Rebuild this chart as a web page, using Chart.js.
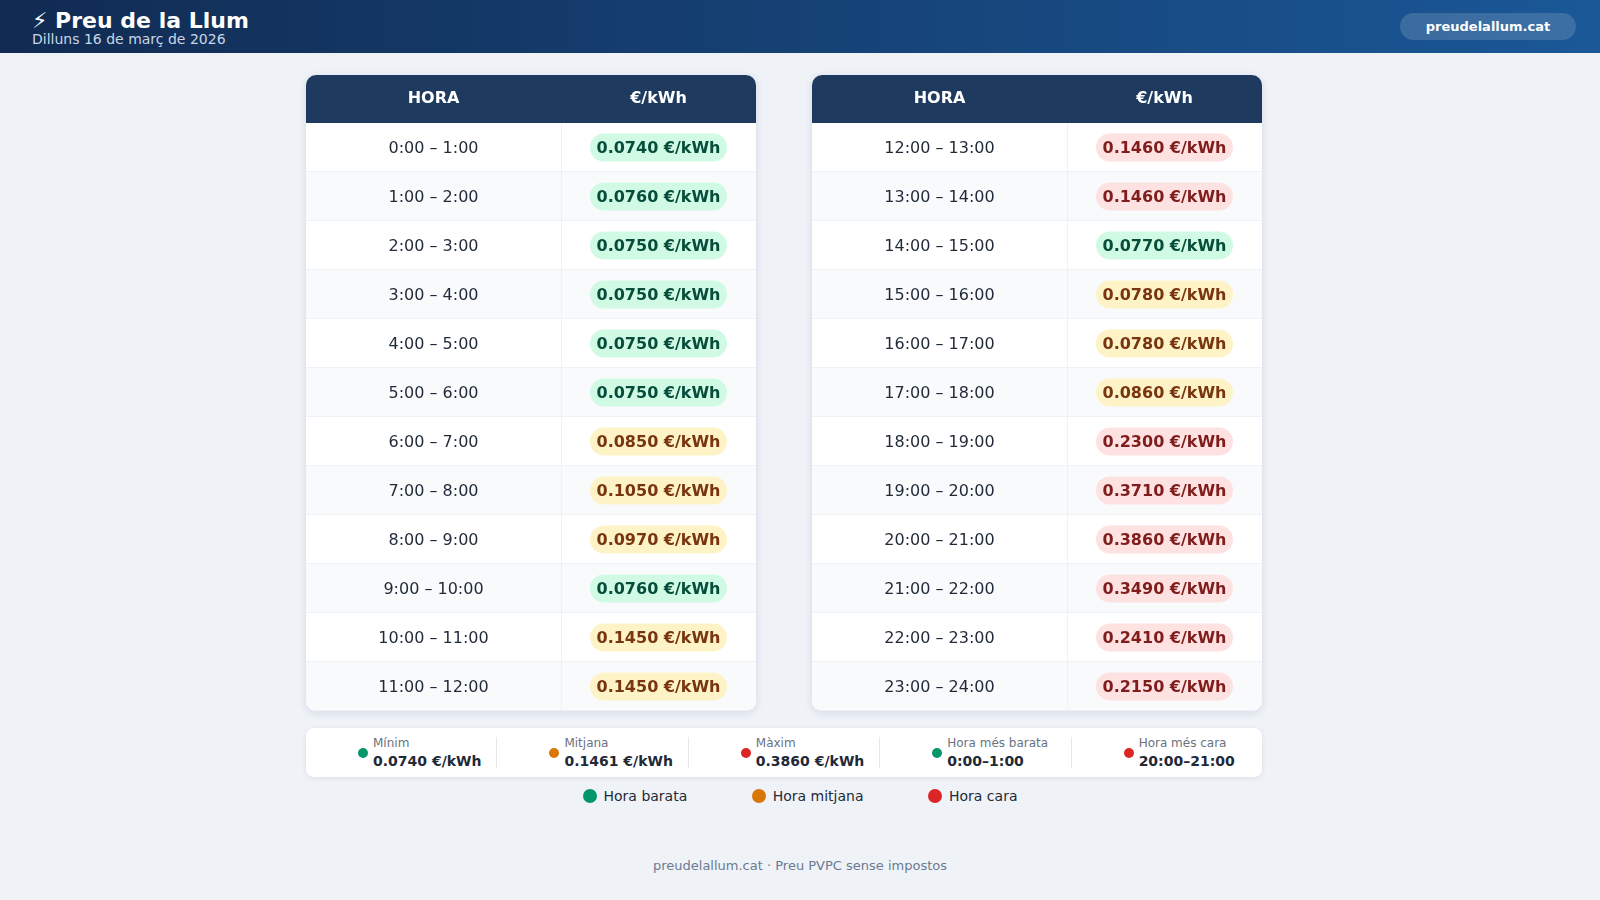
<!DOCTYPE html>
<html>
<head>
<meta charset="utf-8">
<script src="https://cdn.jsdelivr.net/npm/chart.js@4.4.1/dist/chart.umd.min.js"></script>
<style>
  body { margin: 0; width: 1600px; height: 900px; background: #eff3f8; font-family: "DejaVu Sans", sans-serif; position: relative; overflow: hidden; }
  .top { height: 53px; background: linear-gradient(90deg, #112b52 0%, #1a5897 100%); position: relative; }
  .top h1 { margin: 0; position: absolute; left: 32px; top: 8px; color: #fff; font-size: 22px; font-weight: bold; }
  .top .date { position: absolute; left: 32px; top: 31px; color: #c8d6e8; font-size: 14px; }
  .top .site { position: absolute; right: 24px; top: 13px; width: 176px; height: 27px; border-radius: 14px; background: rgba(255,255,255,0.15); color: #fff; font-size: 13px; font-weight: bold; text-align: center; line-height: 27px; }
  .tbl { position: absolute; top: 75px; width: 450px; height: 636px; background: #fff; border-radius: 10px; box-shadow: 0 2px 8px rgba(15,40,80,0.12); overflow: hidden; }
  .stats { position: absolute; left: 306px; top: 728px; width: 956px; height: 49px; background: #fff; border-radius: 8px; box-shadow: 0 1px 5px rgba(15,40,80,0.1); display: flex; }
  .stat { flex: 1; position: relative; border-left: 1px solid #e5e7eb; margin: 9px 0; }
  .stat:first-child { border-left: none; }
  .stat .dot { position: absolute; width: 10px; height: 10px; border-radius: 5px; top: 11px; }
  .stat .lab { position: absolute; top: -1px; font-size: 12px; color: #6b7280; }
  .stat .val { position: absolute; top: 16px; font-size: 14px; font-weight: bold; color: #1f2937; white-space: nowrap; }
  .legend { position: absolute; top: 788px; left: 0; width: 100%; text-align: center; font-size: 14px; color: #1f2937; }
  .legend span { display: inline-block; margin: 0 30px; }
  .legend i { display: inline-block; width: 14px; height: 14px; border-radius: 7px; vertical-align: -2px; margin-right: 7px; }
  .foot { position: absolute; top: 858px; width: 100%; text-align: center; font-size: 13px; color: #6b7a90; }
</style>
</head>
<body>
<div class="top">
  <h1>⚡ Preu de la Llum</h1>
  <div class="date">Dilluns 16 de març de 2026</div>
  <div class="site">preudelallum.cat</div>
</div>
<div class="tbl" style="left:306px"><canvas id="tableLeft" width="450" height="636"></canvas></div>
<div class="tbl" style="left:812px"><canvas id="tableRight" width="450" height="636"></canvas></div>
<div class="stats" id="stats"></div>
<div class="legend">
  <span><i style="background:#059669"></i>Hora barata</span>
  <span><i style="background:#d97706"></i>Hora mitjana</span>
  <span><i style="background:#dc2626"></i>Hora cara</span>
</div>
<div class="foot">preudelallum.cat · Preu PVPC sense impostos</div>
<script>
const hoursLeft = ["0:00 – 1:00", "1:00 – 2:00", "2:00 – 3:00", "3:00 – 4:00", "4:00 – 5:00", "5:00 – 6:00",
    "6:00 – 7:00", "7:00 – 8:00", "8:00 – 9:00", "9:00 – 10:00", "10:00 – 11:00", "11:00 – 12:00"];
const pricesLeft = [0.0740, 0.0760, 0.0750, 0.0750, 0.0750, 0.0750, 0.0850, 0.1050, 0.0970, 0.0760, 0.1450, 0.1450];
const levelsLeft = ["low", "low", "low", "low", "low", "low", "mid", "mid", "mid", "low", "mid", "mid"];

const hoursRight = ["12:00 – 13:00", "13:00 – 14:00", "14:00 – 15:00", "15:00 – 16:00", "16:00 – 17:00", "17:00 – 18:00",
    "18:00 – 19:00", "19:00 – 20:00", "20:00 – 21:00", "21:00 – 22:00", "22:00 – 23:00", "23:00 – 24:00"];
const pricesRight = [0.1460, 0.1460, 0.0770, 0.0780, 0.0780, 0.0860, 0.2300, 0.3710, 0.3860, 0.3490, 0.2410, 0.2150];
const levelsRight = ["high", "high", "low", "mid", "mid", "mid", "high", "high", "high", "high", "high", "high"];

const headers = ["HORA", "€/kWh"];
const statLabels = ["Mínim", "Mitjana", "Màxim", "Hora més barata", "Hora més cara"];
const statValues = ["0.0740 €/kWh", "0.1461 €/kWh", "0.3860 €/kWh", "0:00–1:00", "20:00–21:00"];
const statDots = ["#059669", "#d97706", "#dc2626", "#059669", "#dc2626"];

const pillStyles = {
    low: { bg: "#d1fae5", fg: "#064e3b" },
    mid: { bg: "#fef3c7", fg: "#78350f" },
    high: { bg: "#fee2e2", fg: "#7f1d1d" },
};

// Draws the table body using the category scale's row positions
const tablePlugin = {
    id: "tableCells",
    afterDatasetsDraw(chart) {
        const ctx = chart.ctx;
        const y = chart.scales.y;
        const w = chart.width;
        const splitX = 255;
        const rowH = y.getPixelForValue(1) - y.getPixelForValue(0);
        const levels = chart.options.plugins.tableCells.levels;
        const prices = chart.data.datasets[0].data;
        const labels = chart.data.labels;
        ctx.save();
        // header
        ctx.fillStyle = "#1e3a5f";
        ctx.fillRect(0, 0, w, y.top);
        ctx.fillStyle = "#fff";
        ctx.font = "bold 16px 'DejaVu Sans'";
        ctx.textAlign = "center";
        ctx.textBaseline = "middle";
        ctx.fillText(headers[0], splitX / 2, y.top / 2);
        ctx.fillText(headers[1], (splitX + w) / 2, y.top / 2);
        labels.forEach((label, i) => {
            const cy = y.getPixelForValue(i);
            const top = cy - rowH / 2;
            ctx.fillStyle = i % 2 ? "#f8fafc" : "#ffffff";
            ctx.fillRect(0, top, w, rowH);
            ctx.fillStyle = "#eef1f5";
            ctx.fillRect(0, top + rowH - 1, w, 1);
            ctx.fillRect(splitX, top, 1, rowH);
            ctx.fillStyle = "#1f2937";
            ctx.font = "16px 'DejaVu Sans'";
            ctx.fillText(label, splitX / 2, cy + 1);
            const st = pillStyles[levels[i]];
            const pw = 137, ph = 28, px = (splitX + w) / 2 - pw / 2;
            ctx.fillStyle = st.bg;
            ctx.beginPath();
            ctx.roundRect(px, cy - ph / 2, pw, ph, 14);
            ctx.fill();
            ctx.fillStyle = st.fg;
            ctx.font = "bold 16px 'DejaVu Sans'";
            ctx.fillText(prices[i].toFixed(4) + " €/kWh", (splitX + w) / 2, cy + 1);
        });
        ctx.restore();
    }
};

function makeTable(id, hours, prices, levels) {
    new Chart(document.getElementById(id), {
        type: "bar",
        data: {
            labels: hours,
            datasets: [{ data: prices, backgroundColor: "transparent" }],
        },
        options: {
            indexAxis: "y",
            responsive: false,
            animation: false,
            layout: { padding: { top: 48, left: 0, right: 0, bottom: 0 } },
            scales: {
                y: { display: false, offset: true },
                x: { display: false, min: 0, max: 0.4 },
            },
            plugins: {
                legend: { display: false },
                tooltip: { enabled: false },
                tableCells: { levels: levels },
            },
        },
        plugins: [tablePlugin],
    });
}

makeTable("tableLeft", hoursLeft, pricesLeft, levelsLeft);
makeTable("tableRight", hoursRight, pricesRight, levelsRight);

const stats = document.getElementById("stats");
statLabels.forEach((lab, i) => {
    const d = document.createElement("div");
    d.className = "stat";
    d.innerHTML = `<div class="dot" style="left:52px;background:${statDots[i]}"></div>
        <div class="lab" style="left:67px">${lab}</div>
        <div class="val" style="left:67px">${statValues[i]}</div>`;
    stats.appendChild(d);
});
</script>
</body>
</html>
